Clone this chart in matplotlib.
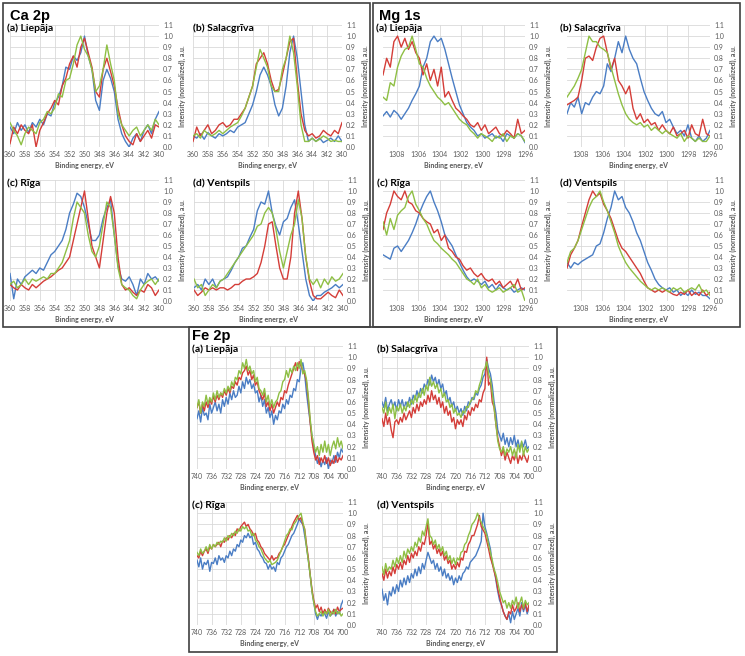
import numpy as np
import matplotlib.pyplot as plt
from matplotlib.patches import Rectangle

plt.rcParams['font.family'] = ['Lato', 'DejaVu Sans']

# ---------------- data ----------------
ca_energy = np.arange(360.0, 339.99, -0.5)
mg_energy = np.linspace(1309.3, 1296.0, 40)
fe_energy = np.arange(740.0, 699.99, -0.5)

# Ca 2p
ca_liepaja_blue = [0.18,0.12,0.22,0.15,0.2,0.13,0.22,0.18,0.25,0.2, 0.3,0.28,0.4,0.45,0.55,0.72,0.7,0.82,0.78,0.85,
                   1.0,0.82,0.7,0.42,0.33,0.6,0.7,0.62,0.5,0.25, 0.12,0.05,0.0,0.08,0.12,0.05,0.15,0.2,0.12,0.25, 0.32]
ca_liepaja_red = [0.03,0.18,0.12,0.2,0.15,0.12,0.2,0.0,0.15,0.22, 0.3,0.35,0.42,0.38,0.55,0.62,0.75,0.82,0.72,0.9,
                  0.98,0.85,0.72,0.5,0.45,0.7,0.8,0.68,0.55,0.35, 0.2,0.1,0.05,0.02,0.12,0.05,0.1,0.15,0.08,0.2, 0.18]
ca_liepaja_green = [0.22,0.15,0.1,0.02,0.12,0.18,0.15,0.12,0.22,0.25, 0.32,0.3,0.35,0.48,0.45,0.6,0.62,0.75,0.92,1.0,
                    0.88,0.82,0.7,0.5,0.55,0.7,0.92,0.75,0.6,0.3, 0.2,0.15,0.1,0.15,0.18,0.1,0.15,0.2,0.15,0.25, 0.2]

ca_salacgriva_blue = [0.1,0.08,0.12,0.07,0.13,0.1,0.08,0.12,0.1,0.12, 0.15,0.13,0.18,0.2,0.22,0.3,0.38,0.5,0.65,0.72,
                      0.65,0.55,0.38,0.28,0.35,0.55,0.85,1.0,0.8,0.5, 0.2,0.05,0.08,0.05,0.08,0.04,0.06,0.08,0.05,0.1, 0.05]
ca_salacgriva_red = [0.05,0.18,0.1,0.15,0.2,0.12,0.15,0.2,0.22,0.18, 0.2,0.25,0.25,0.3,0.35,0.45,0.55,0.75,0.8,0.85,
                     0.75,0.6,0.5,0.52,0.65,0.8,0.95,0.98,0.6,0.3, 0.15,0.1,0.12,0.08,0.1,0.15,0.12,0.1,0.15,0.12, 0.22]
ca_salacgriva_green = [0.1,0.12,0.08,0.15,0.12,0.1,0.12,0.15,0.12,0.15, 0.18,0.2,0.22,0.28,0.35,0.45,0.55,0.72,0.88,0.8,
                       0.72,0.55,0.5,0.5,0.7,0.8,1.0,0.85,0.55,0.2, 0.05,0.05,0.08,0.05,0.07,0.1,0.08,0.05,0.06,0.05, 0.05]

ca_riga_blue = [0.25,0.02,0.2,0.15,0.22,0.25,0.28,0.25,0.3,0.28, 0.35,0.42,0.45,0.5,0.55,0.65,0.8,0.88,0.98,0.95,
                0.85,0.7,0.55,0.55,0.6,0.75,0.85,0.92,0.6,0.32, 0.2,0.18,0.22,0.15,0.05,0.2,0.15,0.25,0.2,0.22, 0.18]
ca_riga_red = [0.15,0.12,0.1,0.15,0.12,0.1,0.15,0.12,0.15,0.18, 0.2,0.22,0.25,0.28,0.3,0.35,0.4,0.55,0.7,0.85,
               1.0,0.75,0.5,0.4,0.3,0.55,0.8,0.95,0.8,0.4, 0.15,0.1,0.12,0.08,0.05,0.1,0.08,0.15,0.12,0.05, 0.1]
ca_riga_green = [0.15,0.18,0.12,0.15,0.2,0.15,0.2,0.18,0.2,0.22, 0.2,0.25,0.25,0.3,0.35,0.45,0.55,0.75,0.9,0.85,
                 0.8,0.6,0.45,0.4,0.5,0.7,0.9,0.85,0.6,0.3, 0.15,0.12,0.1,0.05,0.02,0.1,0.15,0.18,0.2,0.15, 0.2]

ca_ventspils_blue = [0.12,0.15,0.1,0.2,0.15,0.2,0.12,0.18,0.2,0.22, 0.28,0.35,0.4,0.48,0.5,0.58,0.65,0.82,0.9,0.88,
                     1.0,0.8,0.68,0.6,0.72,0.75,0.85,0.92,0.7,0.45, 0.2,0.05,0.0,0.05,0.05,0.08,0.1,0.12,0.15,0.12, 0.15]
ca_ventspils_red = [0.1,0.05,0.08,0.12,0.1,0.12,0.1,0.12,0.12,0.1, 0.12,0.15,0.15,0.18,0.2,0.2,0.22,0.25,0.35,0.5,
                    0.7,0.72,0.5,0.3,0.2,0.2,0.4,0.8,1.0,0.75, 0.4,0.18,0.05,0.02,0.02,0.05,0.08,0.05,0.03,0.1, 0.05]
ca_ventspils_green = [0.2,0.12,0.15,0.05,0.1,0.15,0.12,0.18,0.2,0.25, 0.3,0.35,0.4,0.45,0.5,0.55,0.6,0.68,0.7,0.8,
                      0.85,0.8,0.65,0.45,0.3,0.45,0.6,0.7,0.92,0.75, 0.4,0.2,0.15,0.2,0.12,0.2,0.15,0.22,0.18,0.2, 0.25]

# Mg 1s
mg_liepaja_blue = [0.28,0.32,0.27,0.33,0.3,0.25,0.3,0.35,0.42,0.48, 0.55,0.72,0.8,0.95,1.0,0.95,0.98,0.88,0.75,0.62,
                   0.5,0.38,0.3,0.22,0.18,0.15,0.1,0.12,0.08,0.1, 0.12,0.08,0.1,0.05,0.12,0.1,0.08,0.12,0.1,0.04]
mg_liepaja_red = [0.65,0.8,0.72,0.95,1.0,0.9,0.98,0.88,0.95,0.85, 0.8,0.65,0.75,0.6,0.7,0.55,0.72,0.45,0.5,0.42,
                  0.35,0.32,0.28,0.25,0.2,0.18,0.22,0.15,0.2,0.12, 0.15,0.18,0.12,0.1,0.15,0.12,0.08,0.25,0.12,0.15]
mg_liepaja_green = [0.45,0.42,0.58,0.55,0.72,0.82,0.88,0.9,1.0,0.88, 0.75,0.72,0.62,0.55,0.5,0.45,0.42,0.38,0.4,0.35,
                    0.3,0.25,0.22,0.2,0.15,0.12,0.08,0.12,0.1,0.08, 0.05,0.1,0.08,0.12,0.05,0.1,0.08,0.12,0.1,0.05]

mg_salacgriva_blue = [0.3,0.4,0.36,0.45,0.3,0.4,0.38,0.45,0.5,0.48, 0.55,0.75,0.68,0.8,0.95,0.85,1.0,0.88,0.8,0.75,
                      0.62,0.5,0.42,0.35,0.3,0.28,0.32,0.22,0.25,0.18, 0.12,0.15,0.1,0.2,0.08,0.05,0.1,0.05,0.08,0.15]
mg_salacgriva_red = [0.38,0.4,0.42,0.45,0.6,0.8,0.82,0.78,0.9,0.98, 1.0,0.85,0.7,0.8,0.6,0.55,0.48,0.55,0.35,0.25,
                     0.3,0.22,0.25,0.2,0.22,0.15,0.2,0.15,0.12,0.18, 0.1,0.12,0.15,0.08,0.2,0.12,0.1,0.25,0.12,0.1]
mg_salacgriva_green = [0.45,0.5,0.55,0.62,0.7,0.85,1.0,0.95,0.95,0.9, 0.88,0.85,0.72,0.6,0.48,0.38,0.3,0.25,0.22,0.2,
                       0.22,0.18,0.2,0.15,0.18,0.15,0.12,0.15,0.12,0.1, 0.08,0.12,0.05,0.1,0.08,0.05,0.08,0.05,0.05,0.1]

mg_riga_blue = [0.42,0.4,0.38,0.48,0.5,0.45,0.5,0.55,0.62,0.7, 0.8,0.88,0.95,1.0,0.9,0.82,0.72,0.6,0.55,0.5,
                0.42,0.35,0.28,0.22,0.18,0.2,0.18,0.15,0.18,0.12, 0.15,0.1,0.15,0.12,0.1,0.12,0.08,0.1,0.12,0.1]
mg_riga_red = [0.65,0.8,0.88,1.0,0.95,0.92,1.0,0.9,0.88,0.82, 0.8,0.75,0.72,0.7,0.62,0.65,0.55,0.6,0.48,0.45,
               0.4,0.38,0.32,0.28,0.3,0.25,0.22,0.25,0.2,0.18, 0.2,0.15,0.18,0.12,0.15,0.18,0.12,0.2,0.1,0.12]
mg_riga_green = [0.72,0.6,0.75,0.65,0.78,0.82,0.85,0.95,1.0,0.88, 0.82,0.75,0.7,0.62,0.55,0.52,0.48,0.45,0.42,0.38,
                 0.35,0.3,0.25,0.2,0.18,0.15,0.2,0.12,0.15,0.1, 0.08,0.1,0.12,0.08,0.1,0.12,0.15,0.08,0.1,0.0]

mg_ventspils_blue = [0.35,0.3,0.35,0.33,0.36,0.38,0.4,0.42,0.5,0.52, 0.62,0.75,0.85,1.0,0.92,0.95,0.85,0.8,0.72,0.62,
                     0.55,0.45,0.35,0.28,0.2,0.15,0.12,0.1,0.12,0.08, 0.1,0.05,0.08,0.05,0.1,0.06,0.08,0.05,0.05,0.02]
mg_ventspils_red = [0.3,0.42,0.48,0.55,0.68,0.8,0.92,1.0,0.95,0.98, 0.88,0.82,0.75,0.65,0.55,0.48,0.45,0.4,0.35,0.3,
                    0.25,0.18,0.12,0.1,0.08,0.1,0.08,0.1,0.08,0.06, 0.05,0.08,0.06,0.1,0.05,0.08,0.05,0.1,0.05,0.08]
mg_ventspils_green = [0.35,0.45,0.48,0.55,0.65,0.75,0.85,0.92,0.95,1.0, 0.9,0.82,0.72,0.62,0.5,0.42,0.35,0.3,0.26,0.22,
                      0.18,0.15,0.12,0.1,0.12,0.1,0.12,0.1,0.08,0.12, 0.1,0.12,0.08,0.1,0.12,0.1,0.15,0.08,0.1,0.05]

# Fe 2p
fe_liepaja_blue = [0.45,0.52,0.42,0.55,0.48,0.5,0.44,0.58,0.5,0.55, 0.6,0.52,0.58,0.5,0.62,0.56,0.64,0.58,0.68,0.62,
                   0.7,0.64,0.66,0.74,0.68,0.78,0.72,0.82,0.76,0.8, 0.72,0.76,0.68,0.7,0.6,0.66,0.56,0.62,0.5,0.55,
                   0.46,0.52,0.4,0.48,0.44,0.52,0.5,0.58,0.54,0.62, 0.58,0.66,0.64,0.72,0.7,0.8,0.78,0.9,0.95,0.85,
                   0.68,0.55,0.42,0.3,0.2,0.12,0.05,0.1,0.02,0.08, 0.04,0.1,0.0,0.08,0.05,0.12,0.06,0.15,0.1,0.18,0.15]
fe_liepaja_red = [0.55,0.6,0.5,0.58,0.52,0.6,0.55,0.62,0.58,0.65, 0.6,0.66,0.62,0.68,0.64,0.7,0.66,0.72,0.68,0.74,
                  0.72,0.78,0.75,0.82,0.8,0.86,0.88,0.92,0.84,0.88, 0.8,0.84,0.75,0.78,0.7,0.66,0.62,0.68,0.56,0.6,
                  0.52,0.58,0.5,0.55,0.6,0.56,0.64,0.62,0.7,0.68, 0.75,0.8,0.85,0.9,0.95,0.88,0.96,0.92,0.88,0.85,
                  0.78,0.62,0.42,0.25,0.15,0.08,0.12,0.04,0.1,0.06, 0.12,0.05,0.1,0.03,0.08,0.05,0.12,0.06,0.1,0.08,0.12]
fe_liepaja_green = [0.55,0.62,0.5,0.6,0.56,0.66,0.58,0.64,0.6,0.68, 0.62,0.7,0.64,0.68,0.66,0.72,0.68,0.74,0.7,0.78,
                    0.74,0.82,0.8,0.88,0.85,0.95,0.9,0.98,0.88,0.92, 0.85,0.88,0.78,0.82,0.72,0.7,0.66,0.72,0.6,0.66,
                    0.56,0.62,0.55,0.6,0.62,0.68,0.7,0.78,0.8,0.88, 0.82,0.9,0.86,0.92,0.88,0.95,0.9,0.98,0.85,0.88,
                    0.8,0.65,0.45,0.3,0.22,0.15,0.2,0.12,0.22,0.15, 0.25,0.15,0.22,0.12,0.2,0.25,0.18,0.28,0.2,0.25,0.18]

fe_salacgriva_blue = [0.6,0.55,0.64,0.52,0.58,0.62,0.55,0.6,0.52,0.62, 0.56,0.62,0.54,0.6,0.56,0.64,0.58,0.66,0.62,0.7,
                      0.64,0.72,0.68,0.76,0.72,0.8,0.75,0.84,0.78,0.82, 0.74,0.8,0.72,0.76,0.66,0.7,0.6,0.64,0.56,0.6,
                      0.52,0.56,0.5,0.54,0.48,0.56,0.52,0.6,0.58,0.64, 0.62,0.68,0.66,0.72,0.75,0.82,0.85,0.98,0.9,0.85,
                      0.75,0.6,0.5,0.35,0.3,0.25,0.32,0.22,0.28,0.2, 0.28,0.22,0.3,0.2,0.26,0.18,0.24,0.2,0.26,0.18,0.2]
fe_salacgriva_red = [0.45,0.38,0.5,0.4,0.46,0.35,0.28,0.42,0.44,0.4, 0.46,0.42,0.5,0.44,0.48,0.52,0.46,0.55,0.5,0.58,
                     0.52,0.6,0.56,0.62,0.58,0.66,0.6,0.7,0.62,0.66, 0.58,0.64,0.55,0.6,0.5,0.56,0.48,0.52,0.42,0.46,
                     0.36,0.44,0.4,0.44,0.38,0.48,0.44,0.52,0.48,0.55, 0.52,0.58,0.55,0.62,0.6,0.68,0.72,1.0,0.75,0.78,
                     0.6,0.55,0.4,0.28,0.2,0.12,0.18,0.08,0.15,0.1, 0.05,0.12,0.08,0.15,0.05,0.12,0.08,0.14,0.1,0.06,0.12]
fe_salacgriva_green = [0.55,0.5,0.6,0.48,0.55,0.5,0.58,0.45,0.56,0.52, 0.58,0.5,0.56,0.52,0.6,0.55,0.62,0.58,0.66,0.6,
                       0.68,0.64,0.72,0.66,0.75,0.7,0.82,0.74,0.78,0.72, 0.76,0.68,0.72,0.64,0.68,0.6,0.62,0.55,0.58,0.5,
                       0.54,0.48,0.5,0.46,0.52,0.5,0.56,0.55,0.6,0.62, 0.64,0.7,0.68,0.75,0.8,0.88,0.9,0.96,0.85,0.8,
                       0.68,0.55,0.4,0.25,0.18,0.15,0.2,0.12,0.18,0.15, 0.2,0.12,0.18,0.1,0.22,0.15,0.25,0.12,0.2,0.15,0.18]

fe_riga_blue = [0.58,0.52,0.6,0.5,0.56,0.54,0.58,0.48,0.56,0.55, 0.6,0.54,0.62,0.58,0.6,0.56,0.62,0.6,0.66,0.62,
                0.68,0.66,0.72,0.7,0.76,0.74,0.8,0.78,0.82,0.78, 0.8,0.72,0.74,0.68,0.66,0.62,0.6,0.56,0.55,0.5,
                0.54,0.5,0.52,0.48,0.56,0.54,0.6,0.62,0.66,0.7, 0.72,0.76,0.8,0.82,0.86,0.9,0.95,0.92,0.9,0.8,
                0.7,0.58,0.45,0.3,0.2,0.1,0.05,0.1,0.08,0.12, 0.1,0.06,0.12,0.08,0.1,0.14,0.08,0.12,0.1,0.18,0.22]
fe_riga_red = [0.62,0.6,0.66,0.62,0.66,0.68,0.64,0.7,0.68,0.72, 0.7,0.72,0.74,0.7,0.75,0.74,0.78,0.76,0.8,0.78,
               0.82,0.8,0.86,0.84,0.88,0.9,0.92,0.88,0.9,0.86, 0.84,0.8,0.82,0.76,0.74,0.7,0.68,0.64,0.62,0.6,
               0.58,0.62,0.58,0.6,0.6,0.64,0.66,0.7,0.72,0.76, 0.8,0.84,0.88,0.92,0.95,0.98,0.94,0.96,0.9,0.86,
               0.72,0.6,0.45,0.32,0.22,0.15,0.18,0.12,0.16,0.1, 0.14,0.1,0.15,0.12,0.1,0.14,0.1,0.16,0.12,0.14,0.15]
fe_riga_green = [0.65,0.62,0.68,0.64,0.66,0.7,0.66,0.72,0.68,0.72, 0.7,0.74,0.72,0.75,0.74,0.78,0.75,0.8,0.78,0.82,
                 0.8,0.84,0.82,0.86,0.84,0.88,0.86,0.88,0.84,0.85, 0.8,0.82,0.76,0.74,0.7,0.68,0.64,0.6,0.58,0.56,
                 0.58,0.54,0.55,0.56,0.58,0.62,0.66,0.7,0.75,0.8, 0.82,0.86,0.85,0.9,0.92,0.95,0.98,1.0,0.92,0.85,
                 0.7,0.58,0.45,0.3,0.2,0.12,0.08,0.1,0.12,0.08, 0.12,0.1,0.14,0.08,0.12,0.1,0.14,0.1,0.12,0.08,0.1]

fe_ventspils_blue = [0.32,0.22,0.28,0.18,0.3,0.26,0.34,0.28,0.36,0.3, 0.4,0.34,0.42,0.36,0.44,0.38,0.46,0.42,0.5,0.44,
                     0.52,0.46,0.55,0.5,0.58,0.65,0.6,0.55,0.58,0.5, 0.55,0.48,0.52,0.44,0.5,0.42,0.46,0.4,0.44,0.36,
                     0.42,0.38,0.44,0.4,0.46,0.48,0.52,0.5,0.56,0.58, 0.6,0.62,0.66,0.7,0.75,1.0,0.88,0.82,0.75,0.68,
                     0.55,0.5,0.4,0.3,0.22,0.18,0.12,0.08,0.05,0.1, 0.02,0.12,0.05,0.1,0.15,0.08,0.2,0.12,0.18,0.1,0.15]
fe_ventspils_red = [0.46,0.4,0.5,0.42,0.48,0.44,0.52,0.46,0.54,0.5, 0.56,0.5,0.58,0.54,0.62,0.56,0.64,0.6,0.66,0.62,
                    0.7,0.66,0.74,0.72,0.8,0.92,0.72,0.75,0.68,0.72, 0.64,0.68,0.62,0.66,0.58,0.62,0.55,0.58,0.5,0.54,
                    0.5,0.56,0.52,0.6,0.58,0.66,0.65,0.72,0.75,0.8, 0.8,0.85,0.9,0.98,0.88,0.85,0.82,0.75,0.68,0.6,
                    0.55,0.48,0.42,0.32,0.25,0.18,0.12,0.08,0.05,0.12, 0.1,0.18,0.12,0.15,0.2,0.12,0.18,0.14,0.2,0.12,0.18]
fe_ventspils_green = [0.52,0.45,0.55,0.48,0.52,0.5,0.58,0.52,0.6,0.55, 0.62,0.56,0.66,0.6,0.68,0.64,0.7,0.66,0.74,0.7,
                      0.78,0.74,0.84,0.8,0.88,0.95,0.8,0.78,0.72,0.76, 0.68,0.72,0.66,0.7,0.62,0.66,0.58,0.62,0.55,0.6,
                      0.54,0.6,0.58,0.65,0.66,0.72,0.74,0.8,0.84,0.9, 0.92,0.95,1.0,0.95,0.92,0.88,0.85,0.8,0.72,0.65,
                      0.58,0.5,0.45,0.38,0.3,0.25,0.2,0.22,0.15,0.2, 0.15,0.22,0.18,0.25,0.15,0.2,0.25,0.15,0.22,0.18,0.2]

y_ticks = [0.0, 0.1, 0.2, 0.3, 0.4, 0.5, 0.6, 0.7, 0.8, 0.9, 1.0, 1.1]
ca_ticks = [360, 358, 356, 354, 352, 350, 348, 346, 344, 342, 340]
mg_ticks = [1308, 1306, 1304, 1302, 1300, 1298, 1296]
fe_ticks = [740, 736, 732, 728, 724, 720, 716, 712, 708, 704, 700]

# ---------------- styling ----------------
W, H = 745, 656
BLUE, RED, GREEN = '#4a7dc4', '#d43d38', '#8ebf44'
GRID = '#d9d9d9'
TXT = '#595959'
FRAME = '#404040'


def axes_px(fig, x0, x1, y0, y1):
    # pixel box (top-left origin) -> figure fraction
    return fig.add_axes([x0 / W, 1 - y1 / H, (x1 - x0) / W, (y1 - y0) / H])


def draw_panel(fig, box, energy, blue, red, green, xlim, xticks, title, title_x):
    x0, x1, y0, y1 = box
    ax = axes_px(fig, x0, x1, y0, y1)
    ax.plot(energy, blue, color=BLUE, lw=1.0)
    ax.plot(energy, red, color=RED, lw=1.0)
    ax.plot(energy, green, color=GREEN, lw=1.0)
    ax.set_xlim(*xlim)
    ax.set_ylim(0, 1.1)
    ax.set_xticks(xticks)
    ax.set_xticklabels([str(t) for t in xticks])
    ax.set_yticks(y_ticks)
    ax.set_yticklabels([f'{v:.1f}' for v in y_ticks])
    ax.yaxis.tick_right()
    ax.yaxis.set_label_position('right')
    ax.grid(True, color=GRID, lw=0.6)
    ax.set_axisbelow(True)
    for s in ax.spines.values():
        s.set_visible(False)
    ax.tick_params(length=0, labelsize=5, colors=TXT, pad=3)
    ax.set_xlabel('Binding energy, eV', fontsize=5, color=TXT, fontweight='bold', labelpad=3)
    ax.set_ylabel('Intensity (normalized), a.u.', fontsize=5, color=TXT, fontweight='bold', labelpad=4)
    fig.text(title_x / W, 1 - (y0 + 3) / H, title, fontsize=7.5, fontweight='bold',
             ha='left', va='center', color='black')
    return ax


fig = plt.figure(figsize=(7.45, 6.56), dpi=100)

# frames around the three groups
for (bx0, bx1, by0, by1) in [(3, 370, 3, 327), (373, 740, 3, 327), (189, 557, 327, 652)]:
    fig.add_artist(Rectangle((bx0 / W, 1 - by1 / H), (bx1 - bx0) / W, (by1 - by0) / H,
                             transform=fig.transFigure, fill=False, ec=FRAME, lw=1.2))

ca_lim = (360, 340)
mg_lim = (1309.3, 1296)
fe_lim = (740, 700)

draw_panel(fig, (10, 159, 25, 147), ca_energy, ca_liepaja_blue, ca_liepaja_red, ca_liepaja_green,
           ca_lim, ca_ticks, '(a) Liepāja', 7)
draw_panel(fig, (193, 342, 25, 147), ca_energy, ca_salacgriva_blue, ca_salacgriva_red, ca_salacgriva_green,
           ca_lim, ca_ticks, '(b) Salacgrīva', 193)
draw_panel(fig, (10, 159, 180, 301), ca_energy, ca_riga_blue, ca_riga_red, ca_riga_green,
           ca_lim, ca_ticks, '(c) Rīga', 7)
draw_panel(fig, (194, 343, 180, 301), ca_energy, ca_ventspils_blue, ca_ventspils_red, ca_ventspils_green,
           ca_lim, ca_ticks, '(d) Ventspils', 193)

draw_panel(fig, (383, 525, 25, 147), mg_energy, mg_liepaja_blue, mg_liepaja_red, mg_liepaja_green,
           mg_lim, mg_ticks, '(a) Liepāja', 376)
draw_panel(fig, (567, 710, 25, 147), mg_energy, mg_salacgriva_blue, mg_salacgriva_red, mg_salacgriva_green,
           mg_lim, mg_ticks, '(b) Salacgrīva', 560)
draw_panel(fig, (383, 525, 180, 301), mg_energy, mg_riga_blue, mg_riga_red, mg_riga_green,
           mg_lim, mg_ticks, '(c) Rīga', 377)
draw_panel(fig, (567, 710, 180, 301), mg_energy, mg_ventspils_blue, mg_ventspils_red, mg_ventspils_green,
           mg_lim, mg_ticks, '(d) Ventspils', 560)

draw_panel(fig, (197, 343, 346, 469), fe_energy, fe_liepaja_blue, fe_liepaja_red, fe_liepaja_green,
           fe_lim, fe_ticks, '(a) Liepāja', 192)
draw_panel(fig, (382, 529, 346, 469), fe_energy, fe_salacgriva_blue, fe_salacgriva_red, fe_salacgriva_green,
           fe_lim, fe_ticks, '(b) Salacgrīva', 377)
draw_panel(fig, (197, 343, 502, 625), fe_energy, fe_riga_blue, fe_riga_red, fe_riga_green,
           fe_lim, fe_ticks, '(c) Rīga', 192)
draw_panel(fig, (382, 529, 502, 625), fe_energy, fe_ventspils_blue, fe_ventspils_red, fe_ventspils_green,
           fe_lim, fe_ticks, '(d) Ventspils', 377)

# group headers (baseline placement, descender of "p" sits just above the panel titles)
for label, hx, hy in [('Ca 2p', 10, 20), ('Mg 1s', 379, 20), ('Fe 2p', 192, 340)]:
    fig.text(hx / W, 1 - hy / H, label, fontsize=10.5, fontweight='bold',
             family=['Liberation Sans', 'DejaVu Sans'], ha='left', va='baseline')

fig.savefig('out.png', dpi=100, facecolor='white')
